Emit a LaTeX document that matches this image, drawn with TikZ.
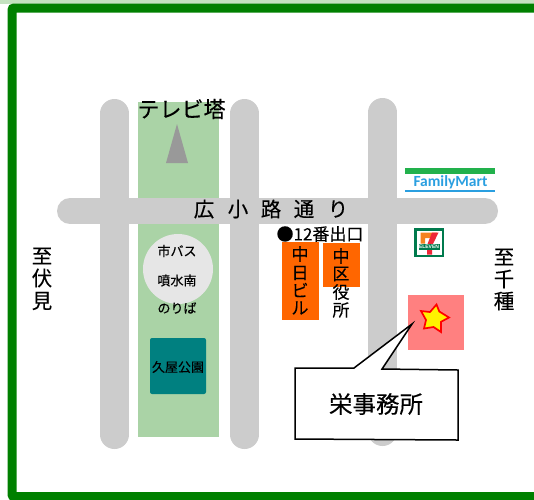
\documentclass[tikz,border=0pt]{standalone}
\usepackage{fontspec}
\setmainfont[FakeBold=0.25]{Noto Sans CJK JP}
\newfontfamily\latinsans{Carlito}
\newfontfamily\smallsans{Liberation Sans}
\definecolor{roadgray}{HTML}{CCCCCC}
\definecolor{parkgreen}{HTML}{AAD3A6}
\definecolor{framegreen}{HTML}{008000}
\definecolor{stripgreen}{HTML}{C4E2C0}
\definecolor{conegray}{HTML}{999999}
\definecolor{busgray}{HTML}{E6E6E6}
\definecolor{teal2}{HTML}{008080}
\definecolor{bldg}{HTML}{FF6600}
\definecolor{pinkbox}{HTML}{FF8080}
\definecolor{fmgreen}{HTML}{22B14C}
\definecolor{fmblue}{HTML}{2A9FE0}
\definecolor{sevengreen}{HTML}{007A4D}
\definecolor{sevenorange}{HTML}{F58220}
\definecolor{sevenred}{HTML}{EE2737}
\tikzset{
  x=1pt,y=-1pt,
  road/.style={line width=29pt,roadgray,line cap=round},
  lbl/.style={inner sep=0pt,text=black},
  tall/.style={lbl,font=\fontsize{20.5}{20.5}\selectfont},
  mid/.style={lbl,font=\fontsize{17}{17}\selectfont},
  small/.style={lbl,font=\fontsize{13}{13}\selectfont},
}
\begin{document}
\begin{tikzpicture}
\useasboundingbox (0,0) rectangle (534,499);
\clip (0,0) rectangle (534,499);
\fill[white] (0,0) rectangle (534,499);
\fill[stripgreen] (0,0) rectangle (534,3.5);
% frame
\draw[framegreen,line width=9pt,rounded corners=2pt] (560,8) -- (12,8) -- (12,496.5) -- (560,496.5);
% park
\fill[parkgreen] (137.5,102) rectangle (219,437);
% roads
\draw[road] (114.5,113.5) -- (114.5,434.5);
\draw[road] (244.5,113.5) -- (244.5,434.5);
\draw[road] (382.5,112.5) -- (382.5,431.5);
\draw[road,line width=26pt] (70,211) -- (485,211);
% tower
\fill[conegray] (177,124) -- (188,163) -- (166,163) -- cycle;
\node[lbl,font=\fontsize{22}{22}\selectfont] (tv) at (181.5,109) {テレビ塔};
% road name
\node[tall] (r1) at (204,209) {広};
\node[tall] (r2) at (238,209) {小};
\node[tall] (r3) at (271,209) {路};
\node[tall] (r4) at (304,209) {通};
\node[tall] (r5) at (338,209) {り};
% bus stop
\fill[busgray] (178,269) circle (35);
\node[small] (b1) at (177,251) {市バス};
\node[small] (b2) at (177,280.5) {噴水南};
\node[small] (b3) at (177,308) {のりば};
% park box
\fill[teal2,rounded corners=2pt] (150,338) rectangle (206,394);
\node[small] (k) at (178,367) {久屋公園};
% exit
\node[lbl,font=\fontsize{17}{17}\selectfont] (ex) at (320,234) {●12番出口};
% buildings
\fill[bldg] (282,242) rectangle (319,320);
\fill[bldg] (323,243) rectangle (360,287);
\node[mid] (n1) at (300,254) {中};
\node[mid] (n2) at (300,273) {日};
\node[mid] (n3) at (300,290) {ビ};
\node[mid] (n4) at (300,308) {ル};
\node[mid] (w1) at (341,256) {中};
\node[mid] (w2) at (341,274) {区};
\node[mid] (w3) at (341,292) {役};
\node[mid] (w4) at (341,310) {所};
% side labels
\node[tall] (f1) at (42,256) {至};
\node[tall] (f2) at (42,278) {伏};
\node[tall] (f3) at (42,301) {見};
\node[tall] (c1) at (504,257) {至};
\node[tall] (c2) at (504,279) {千};
\node[tall] (c3) at (504,301) {種};
% FamilyMart
\fill[fmgreen] (405,168) rectangle (495,174);
\fill[fmblue] (405,190) rectangle (495,191.7);
\node[inner sep=0pt,text=fmblue,font=\latinsans\bfseries\fontsize{15.5}{15.5}\selectfont] (fm) at (450.5,182.5) {FamilyMart};
% 7-Eleven
\fill[sevengreen] (414,228) rectangle (444,257);
\fill[white] (416.5,230.5) rectangle (441.5,254.5);
\fill[sevenorange] (420.5,232.5) -- (437,232.5) -- (433,238) -- (425,238) -- (425,243.5) -- (420.5,243.5) -- cycle;
\fill[sevenred] (432,232.5) -- (438.5,232.5) -- (432.5,245) -- (432,254.5) -- (427,254.5) -- (427.5,244) -- cycle;
\fill[sevengreen] (418.5,243.5) rectangle (439.5,249.5);
\node[inner sep=0pt,text=white,font=\smallsans\bfseries\fontsize{5}{5}\selectfont] (se) at (429,246.5) {ELEVEN};
% office marker
\fill[pinkbox] (408,295) rectangle (464,350);
\draw[red,fill=yellow,line width=1.7pt,line join=miter]
  (436.5,304.5) -- (439.3,311.5) -- (449,317.5) -- (441,321.8) -- (441,332) -- (433.5,327) -- (424,328.5) -- (426,320) -- (421,311) -- (430,312) -- cycle;
% callout
\draw[black,fill=white,line width=1.5pt] (295,368) -- (354,368) -- (412,324) -- (382,369) -- (458,370) -- (458,440) -- (295,439) -- cycle;
\node[lbl,font=\fontsize{23.5}{23.5}\selectfont] (of) at (376,404) {栄事務所};
\end{tikzpicture}
\end{document}
